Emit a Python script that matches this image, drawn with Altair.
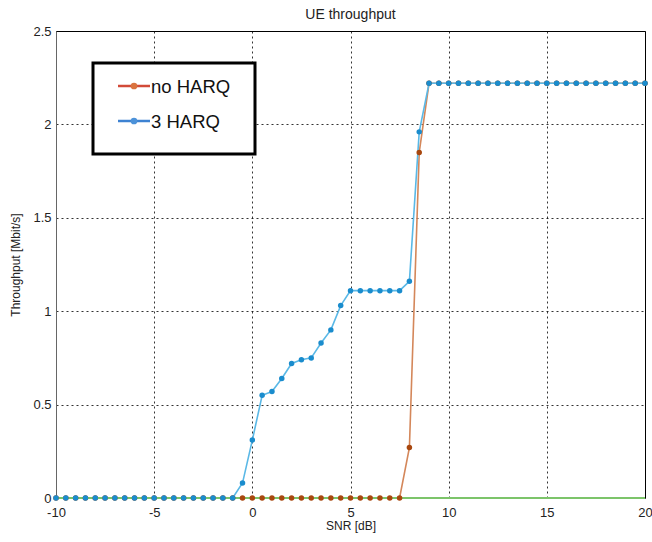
import altair as alt
import pandas as pd

# ---- data ----
snr = [-10, -9.5, -9, -8.5, -8, -7.5, -7, -6.5, -6, -5.5,
       -5, -4.5, -4, -3.5, -3, -2.5, -2, -1.5, -1, -0.5,
       0, 0.5, 1, 1.5, 2, 2.5, 3, 3.5, 4, 4.5,
       5, 5.5, 6, 6.5, 7, 7.5, 8, 8.5, 9, 9.5,
       10, 10.5, 11, 11.5, 12, 12.5, 13, 13.5, 14, 14.5,
       15, 15.5, 16, 16.5, 17, 17.5, 18, 18.5, 19, 19.5, 20]

no_harq = [0, 0, 0, 0, 0, 0, 0, 0, 0, 0,
           0, 0, 0, 0, 0, 0, 0, 0, 0, 0,
           0, 0, 0, 0, 0, 0, 0, 0, 0, 0,
           0, 0, 0, 0, 0, 0, 0.27, 1.85, 2.22, 2.22,
           2.22, 2.22, 2.22, 2.22, 2.22, 2.22, 2.22, 2.22, 2.22, 2.22,
           2.22, 2.22, 2.22, 2.22, 2.22, 2.22, 2.22, 2.22, 2.22, 2.22, 2.22]

harq3 = [0, 0, 0, 0, 0, 0, 0, 0, 0, 0,
         0, 0, 0, 0, 0, 0, 0, 0, 0, 0.08,
         0.31, 0.55, 0.57, 0.64, 0.72, 0.74, 0.75, 0.83, 0.90, 1.03,
         1.11, 1.11, 1.11, 1.11, 1.11, 1.11, 1.16, 1.96, 2.22, 2.22,
         2.22, 2.22, 2.22, 2.22, 2.22, 2.22, 2.22, 2.22, 2.22, 2.22,
         2.22, 2.22, 2.22, 2.22, 2.22, 2.22, 2.22, 2.22, 2.22, 2.22, 2.22]

ref_x = [-10, 20]
ref_y = [0, 0]

legend_labels = ["no HARQ", "3 HARQ"]
x_ticks = [-10, -5, 0, 5, 10, 15, 20]
y_ticks = [0, 0.5, 1, 1.5, 2, 2.5]

FONT = "Liberation Sans"

df_no = pd.DataFrame({"snr": snr, "tp": no_harq})
df_3 = pd.DataFrame({"snr": snr, "tp": harq3})
df_ref = pd.DataFrame({"snr": ref_x, "tp": ref_y})

xscale = alt.Scale(domain=[-10, 20], nice=False, zero=False)
yscale = alt.Scale(domain=[0, 2.5], nice=False)

grid_axis = dict(grid=True, gridColor="#000000", gridDash=[2, 3], gridOpacity=0.8,
                 gridWidth=1, ticks=False, domain=True, domainColor="#666666",
                 labelFont=FONT, labelFontSize=13, labelColor="#222222",
                 titleFont=FONT, titleFontSize=12, titleFontWeight="normal",
                 titleColor="#222222", labelExpr="'' + datum.value")

X = alt.X("snr:Q", scale=xscale, title="SNR [dB]",
          axis=alt.Axis(values=x_ticks, labelPadding=8, titlePadding=1,
                        labelFlush=False, labelOverlap=False, **grid_axis))
Y = alt.Y("tp:Q", scale=yscale, title="Throughput [Mbit/s]",
          axis=alt.Axis(values=y_ticks, labelPadding=5, titlePadding=10,
                        labelFlush=False, labelOverlap=False, **grid_axis))

orange_line = alt.Chart(df_no).mark_line(color="#d4875a", strokeWidth=1.6).encode(x=X, y=Y)
blue_line = alt.Chart(df_3).mark_line(color="#5ab8e6", strokeWidth=1.6).encode(x=X, y=Y)
green_line = alt.Chart(df_ref).mark_line(color="#7cc46a", strokeWidth=2).encode(x=X, y=Y)
orange_pts = alt.Chart(df_no).mark_circle(color="#a8470e", size=30, opacity=1).encode(x=X, y=Y)
blue_pts = alt.Chart(df_3).mark_circle(color="#1a8ccd", size=30, opacity=1).encode(x=X, y=Y)

# ---- manual legend box ----
one = pd.DataFrame({"k": [0]})
leg_box = alt.Chart(one).mark_rect(fill="white", stroke="black", strokeWidth=3).encode(
    x=alt.value(37), x2=alt.value(199), y=alt.value(32), y2=alt.value(123))

leg_items = []
leg_specs = [(legend_labels[0], 55, "#d24a38", "#d9733f"),
             (legend_labels[1], 90, "#3d82d2", "#4c92d9")]
for lab, yy, lc, mc in leg_specs:
    d = pd.DataFrame({"label": [lab]})
    leg_items.append(alt.Chart(d).mark_rule(color=lc, strokeWidth=2.5).encode(
        x=alt.value(62), x2=alt.value(94), y=alt.value(yy)))
    leg_items.append(alt.Chart(d).mark_circle(color=mc, size=45, opacity=1).encode(
        x=alt.value(78), y=alt.value(yy)))
    leg_items.append(alt.Chart(d).mark_text(align="left", baseline="middle", font=FONT,
                                            fontSize=18.5, color="#111111").encode(
        x=alt.value(95), y=alt.value(yy + 1), text="label:N"))

chart = alt.layer(orange_line, blue_line, green_line, orange_pts, blue_pts,
                  leg_box, *leg_items).properties(
    width=589, height=467,
    title=alt.TitleParams("UE throughput", font=FONT, fontSize=14, fontWeight="normal",
                          color="#222222", offset=3),
    autosize=alt.AutoSizeParams(type="none"),
    padding={"left": 56, "top": 31, "right": 7, "bottom": 44},
    background="white",
).configure_view(stroke="black", strokeWidth=1)

chart.save("out.html", embed_options={"renderer": "svg", "actions": False})
